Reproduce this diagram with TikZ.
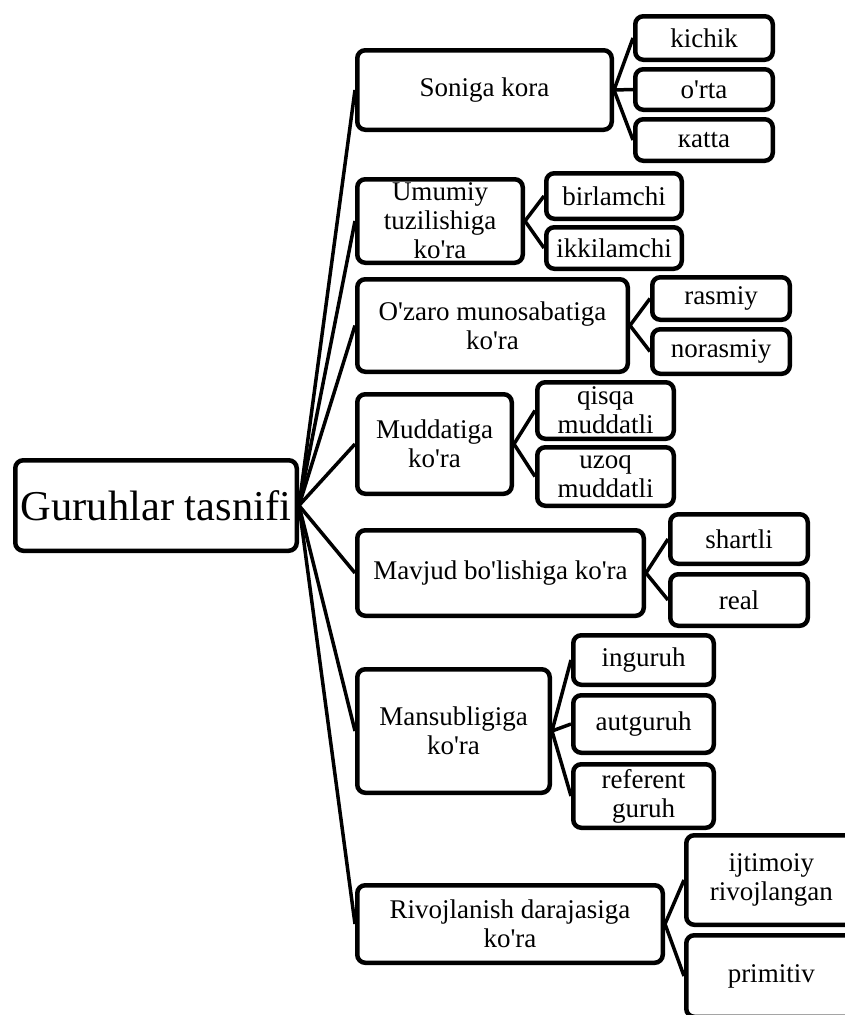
\documentclass[tikz,border=0pt]{standalone}
\usepackage{fontspec}
\setmainfont{Liberation Serif}
\newcommand{\ap}{\textquotesingle}
\begin{document}
\begin{tikzpicture}[x=1pt,y=-1pt,
  box/.style={draw, line width=4.5pt, rounded corners=8pt, inner sep=0pt, align=center,
    font=\fontsize{27}{29}\selectfont},
  link/.style={line width=3.5pt}]
\useasboundingbox (0,0) rectangle (844,1015);
% root
\node[box, font=\fontsize{42.5}{46}\selectfont, minimum width=281.5pt, minimum height=90.5pt] (root) at (156,505.5) {Guruhlar tasnifi};
% categories
\node[box, minimum width=254.5pt, minimum height=79.5pt] (son) at (484.5,90) {Soniga kora};
\node[box, minimum width=165.5pt, minimum height=83.5pt] (umu) at (440,221) {Umumiy\\tuzilishiga\\ko\ap ra};
\node[box, minimum width=270.5pt, minimum height=92.5pt] (oza) at (492.5,325.5) {O\ap zaro munosabatiga\\ko\ap ra};
\node[box, minimum width=154.5pt, minimum height=99.5pt] (mud) at (434.5,444) {Muddatiga\\ko\ap ra};
\node[box, minimum width=286.5pt, minimum height=85.5pt] (mav) at (500.5,573) {Mavjud bo\ap lishiga ko\ap ra};
\node[box, minimum width=192.5pt, minimum height=123.5pt] (man) at (453.5,731) {Mansubligiga\\ko\ap ra};
\node[box, minimum width=305.5pt, minimum height=77.5pt] (riv) at (510,924) {Rivojlanish darajasiga\\ko\ap ra};
% leaves
\node[box, minimum width=137.5pt, minimum height=43.5pt] (kic) at (704,38) {kichik};
\node[box, minimum width=137.5pt, minimum height=40.5pt] (ort) at (704,89.5) {o\ap rta};
\node[box, minimum width=137.5pt, minimum height=41.5pt] (kat) at (704,140) {кatta};
\node[box, minimum width=135.5pt, minimum height=45.5pt] (bir) at (614,196) {birlamchi};
\node[box, minimum width=135.5pt, minimum height=41.5pt] (ikk) at (614,248) {ikkilamchi};
\node[box, minimum width=137.5pt, minimum height=42.5pt] (ras) at (721,298.5) {rasmiy};
\node[box, minimum width=137.5pt, minimum height=44.5pt] (nor) at (721,351.5) {norasmiy};
\node[box, minimum width=136.5pt, minimum height=56.5pt] (qis) at (605.5,410.5) {qisqa\\muddatli};
\node[box, minimum width=136.5pt, minimum height=58.5pt] (uzo) at (605.5,476.5) {uzoq\\muddatli};
\node[box, minimum width=137.5pt, minimum height=49.5pt] (sha) at (739,539) {shartli};
\node[box, minimum width=137.5pt, minimum height=51.5pt] (rea) at (739,600) {real};
\node[box, minimum width=140.5pt, minimum height=49.5pt] (ing) at (643.5,660) {inguruh};
\node[box, minimum width=140.5pt, minimum height=57.5pt] (aut) at (643.5,724) {autguruh};
\node[box, minimum width=140.5pt, minimum height=63.5pt] (ref) at (643.5,796) {referent\\guruh};
\node[box, minimum width=170pt, minimum height=89.5pt] (ijt) at (771.25,880) {ijtimoiy\\rivojlangan};
\node[box, minimum width=170pt, minimum height=81.5pt] (pri) at (771.25,976) {primitiv};
% connectors
\foreach \c in {son,umu,oza,mud,mav,man,riv} \draw[link] (root.east) -- (\c.west);
\foreach \c in {kic,ort,kat} \draw[link] (son.east) -- (\c.west);
\foreach \c in {bir,ikk} \draw[link] (umu.east) -- (\c.west);
\foreach \c in {ras,nor} \draw[link] (oza.east) -- (\c.west);
\foreach \c in {qis,uzo} \draw[link] (mud.east) -- (\c.west);
\foreach \c in {sha,rea} \draw[link] (mav.east) -- (\c.west);
\foreach \c in {ing,aut,ref} \draw[link] (man.east) -- (\c.west);
\foreach \c in {ijt,pri} \draw[link] (riv.east) -- (\c.west);
\end{tikzpicture}
\end{document}
